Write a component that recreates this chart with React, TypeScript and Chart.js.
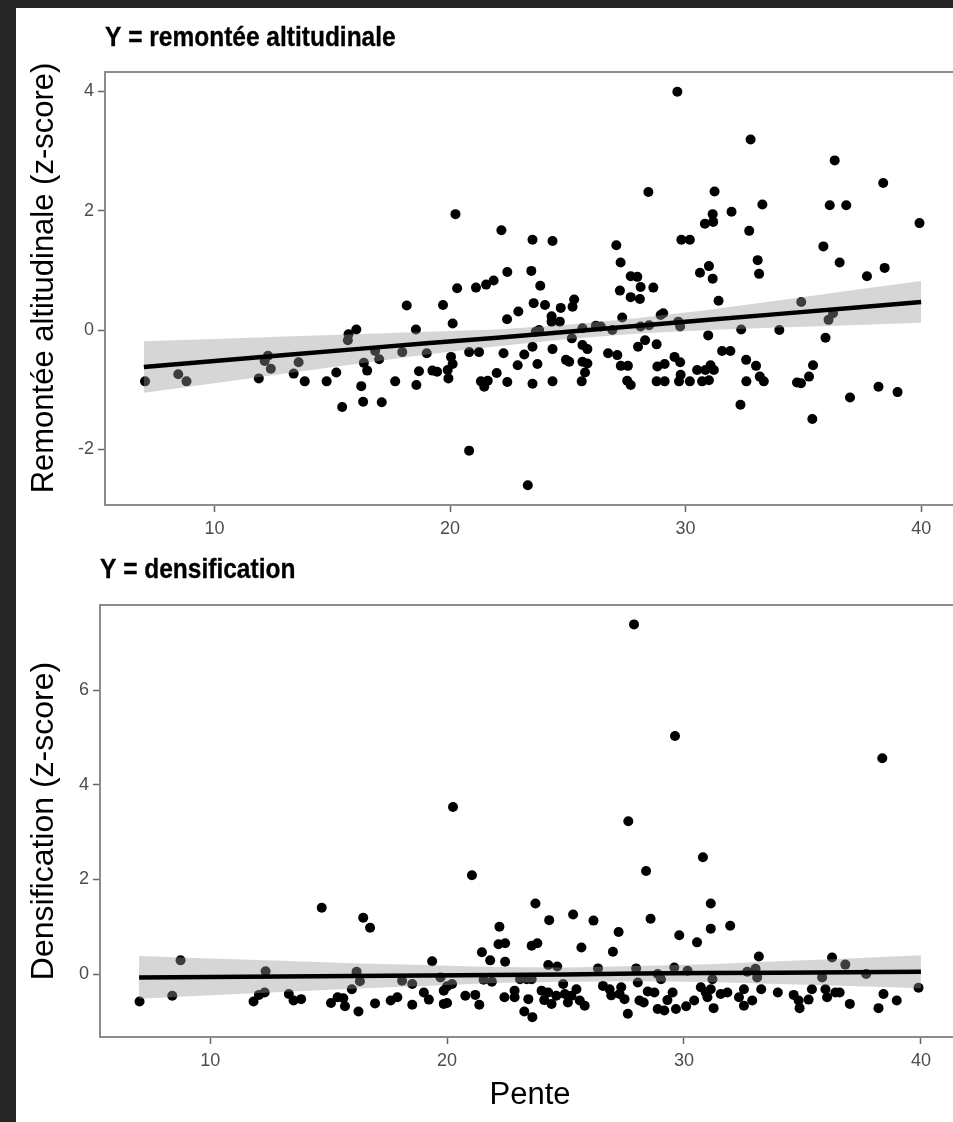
import React, { useEffect, useRef } from "react";
import { Chart, registerables } from "chart.js";

Chart.register(...registerables);

const FONT = '"Liberation Sans", Arial, Helvetica, sans-serif';

// ---------- data ----------
const xTicks = [10, 20, 30, 40];
const topYTicks = [-2, 0, 2, 4];
const bottomYTicks = [0, 2, 4, 6];

const topTitle = "Y = remontée altitudinale";
const bottomTitle = "Y = densification";
const topYLabel = "Remontée altitudinale (z-score)";
const bottomYLabel = "Densification (z-score)";
const xLabel = "Pente";

// Panel 1: pente (x) vs remontée altitudinale (y)
const penteTop = [
  7.05, 8.46, 8.81, 11.88, 12.27, 12.13, 12.39, 13.36, 13.57, 13.83, 14.76, 15.17, 15.42, 15.66, 15.69, 16.02,
  16.23, 16.34, 16.48, 16.31, 17.1, 16.82, 16.99, 17.67, 17.97, 18.16, 18.55, 18.57, 18.68, 19.01, 19.25, 19.45,
  19.7, 20.11, 20.23, 20.3, 20.04, 20.11, 19.9, 19.93, 20.81, 20.81, 21.23, 21.1, 21.53, 21.85, 22.18, 22.43,
  22.42, 21.31, 21.45, 21.6, 21.98, 22.27, 22.43, 22.87, 22.9, 23.15, 23.3, 23.5, 23.45, 23.55, 23.5, 23.5,
  24.35, 23.83, 24.03, 24.7, 25.27, 25.2, 24.31, 24.31, 24.66, 23.78, 23.64, 23.71, 24.35, 24.35, 25.17, 25.62,
  25.62, 25.83, 24.92, 25.06, 25.62, 25.83, 25.73, 25.59, 26.19, 26.4, 26.89, 26.71, 27.1, 27.25, 27.55, 27.52,
  27.67, 27.06, 27.24, 27.21, 27.31, 27.67, 27.95, 28.09, 27.67, 28.06, 28.63, 28.42, 28.09, 28.28, 27.98, 28.45,
  28.77, 28.94, 29.05, 28.8, 29.11, 28.77, 29.11, 29.65, 29.53, 29.77, 29.69, 29.77, 29.82, 30.18, 29.79, 29.72,
  30.18, 30.49, 30.7, 30.84, 31.06, 31.2, 30.99, 30.61, 30.99, 31.15, 30.82, 31.15, 31.17, 31.23, 31.4, 30.96,
  31.55, 31.9, 31.95, 32.36, 32.57, 32.99, 33.32, 33.15, 32.58, 32.33, 32.76, 32.7, 33.26, 33.06, 33.12, 33.98,
  34.91, 34.73, 34.9, 35.24, 35.41, 35.38, 35.94, 36.07, 36.26, 35.85, 36.12, 36.33, 36.82, 36.54, 36.98, 37.7,
  38.39, 38.45, 38.19, 39.0, 39.93,
];
const remontee = [
  -0.86, -0.74, -0.86, -0.81, -0.43, -0.52, -0.65, -0.73, -0.54, -0.86, -0.86, -0.71, -1.29, -0.17, -0.07, 0.01,
  -0.94, -0.55, -0.68, -1.2, -1.21, -0.35, -0.49, -0.86, -0.37, 0.41, 0.01, -0.92, -0.69, -0.39, -0.68, -0.7,
  0.42, 0.11, 1.94, 0.7, -0.45, -0.57, -0.67, -0.81, -2.02, -0.37, -0.37, 0.71, 0.76, 0.83, 1.67, 0.97,
  0.18, -0.86, -0.95, -0.85, -0.72, -0.39, -0.87, -0.59, 0.31, -0.41, -2.6, 1.51, 0.99, 0.45, -0.28, -0.9,
  1.49, 0.74, 0.42, 0.37, 0.51, 0.39, 0.23, 0.14, 0.14, 0.0, -0.03, -0.57, -0.86, -0.32, -0.14, 0.03,
  -0.25, -0.32, -0.5, -0.53, -0.53, -0.56, -0.71, -0.86, 0.07, 0.06, 0.0, -0.39, -0.42, -0.6, -0.6, -0.85,
  -0.92, 1.42, 1.13, 0.66, 0.21, 0.9, 0.89, 0.72, 0.55, 0.52, 0.71, 2.31, 0.06, -0.17, -0.28, 0.08,
  -0.24, 0.25, 0.28, -0.61, -0.57, -0.86, -0.86, 3.99, -0.45, -0.54, 0.14, 0.06, 1.51, 1.51, -0.75, -0.86,
  -0.86, -0.67, -0.86, -0.67, -0.59, -0.67, -0.84, 0.96, 1.07, 0.86, 1.78, 1.94, 1.81, 2.32, 0.49, -0.09,
  -0.35, -0.35, 1.98, 0.01, -0.5, -0.6, -0.86, -0.78, -0.86, -1.25, 3.19, 1.66, 2.1, 1.17, 0.94, 0.0,
  0.47, -0.88, -0.89, -0.78, -0.59, -1.49, -0.13, 0.17, 0.28, 1.4, 2.09, 2.84, 2.09, 1.13, -1.13, 0.9,
  2.46, 1.04, -0.95, -1.04, 1.79,
];

// Panel 2: pente (x) vs densification (y)
const penteBottom = [
  7.02, 8.4, 8.75, 11.83, 12.06, 12.3, 12.34, 13.32, 13.52, 13.84, 14.71, 15.1, 15.38, 15.62, 15.69, 15.98,
  16.26, 16.18, 16.32, 16.46, 16.75, 16.96, 17.62,
  17.9, 18.1, 18.53, 18.53, 19.02, 19.23, 19.37, 19.72, 19.86, 20.0, 20.21, 19.86, 20.0, 20.77, 21.19, 21.36,
  21.47, 21.82, 21.54, 21.89, 22.17, 22.45, 22.45, 22.21, 22.42, 22.85, 22.85, 23.08, 20.25, 21.05,
  23.36, 23.57, 23.26, 23.6, 23.43, 23.57, 23.81, 24.27, 24.65, 23.99, 24.27, 24.41, 24.61, 24.9, 24.97, 25.25,
  25.46, 25.6, 25.81, 25.67, 26.37, 26.58, 26.86, 27.0, 27.24, 27.28, 27.49, 27.63, 27.98, 28.05, 28.12, 28.47,
  28.75, 28.89, 28.89, 29.03, 29.17, 29.59, 29.52, 29.66, 29.8, 26.93, 27.35, 28.3, 29.3, 24.1, 25.1,
  27.89, 29.62, 27.65, 28.4, 23.73, 25.32, 24.31, 26.18, 28.59,
  30.15, 30.09, 30.55, 30.43, 30.71, 30.92, 31.13, 30.99, 31.2, 31.25, 31.55, 31.83, 32.32, 32.53, 32.53, 32.88,
  32.67, 33.02, 33.16, 33.09, 33.26, 33.96, 34.63, 34.84, 34.88, 35.26, 35.4, 35.83, 35.97, 36.04, 36.25, 36.39,
  36.57, 36.81, 37.0, 37.69, 38.21, 38.42, 38.98, 39.9, 38.37, 30.8, 31.13, 31.95, 31.13,
];
const densification = [
  -0.58, -0.46, 0.29, -0.58, -0.44, -0.39, 0.06, -0.42, -0.56, -0.53, 1.4, -0.61, -0.49, -0.51, -0.68, -0.32,
  -0.79, 0.05, -0.15, 1.19, 0.98, -0.62, -0.56,
  -0.49, -0.14, -0.21, -0.65, -0.39, -0.54, 0.27, -0.07, -0.35, -0.26, -0.21, -0.63, -0.61, -0.46, -0.44, -0.65,
  0.46, 0.29, -0.12, -0.16, 0.63, 0.65, 0.26, 1.0, -0.49, -0.35, -0.49, -0.11, 3.53, 2.09,
  -0.11, -0.11, -0.79, -0.91, -0.53, 0.6, 0.65, 0.19, 0.16, -0.35, -0.39, -0.63, -0.46, -0.21, -0.42, -0.46,
  -0.32, -0.56, -0.67, 0.56, 0.12, -0.25, -0.32, 0.47, 0.89, -0.42, -0.53, -0.84, 0.12, -0.18, -0.56, -0.37,
  -0.39, 0.0, -0.74, -0.11, -0.77, 0.14, -0.39, -0.74, 0.82, -0.45, -0.28, -0.6, -0.55, -0.55, -0.6,
  7.39, 5.03, 3.23, 2.18, 1.49, 1.26, 1.14, 1.13, 1.17,
  0.07, -0.68, 0.67, -0.56, -0.28, -0.39, -0.32, -0.49, -0.11, -0.72, -0.42, -0.39, -0.49, -0.32, -0.67, -0.56,
  0.05, 0.11, 0.37, -0.07, -0.32, -0.39, -0.44, -0.56, -0.72, -0.54, -0.32, -0.07, -0.32, -0.49, 0.35, -0.39,
  -0.39, 0.2, -0.63, 0.0, -0.72, -0.42, -0.56, -0.29, 4.56, 2.47, 1.49, 1.02, 0.96,
];

// Linear fits with 95% confidence band
const fitX = [7, 10, 13, 16, 19, 22, 25, 28, 31, 34, 37, 40];
const remonteeFit = [-0.62, -0.52, -0.42, -0.32, -0.22, -0.13, -0.03, 0.07, 0.17, 0.27, 0.37, 0.47];
const remonteeUpper = [-0.19, -0.15, -0.11, -0.07, -0.03, 0.01, 0.09, 0.2, 0.34, 0.5, 0.66, 0.82];
const remonteeLower = [-1.05, -0.89, -0.73, -0.57, -0.41, -0.27, -0.15, -0.06, 0.0, 0.04, 0.08, 0.12];
const densFit = [-0.07, -0.06, -0.05, -0.04, -0.03, -0.02, -0.01, 0.01, 0.02, 0.03, 0.04, 0.05];
const densUpper = [0.38, 0.33, 0.28, 0.23, 0.19, 0.15, 0.14, 0.17, 0.21, 0.27, 0.33, 0.4];
const densLower = [-0.52, -0.45, -0.38, -0.31, -0.25, -0.19, -0.16, -0.15, -0.17, -0.21, -0.25, -0.3];

// ---------- drawing ----------
const panelDeco = {
  id: "panelDeco",
  afterDatasetsDraw(chart: any) {
    const { ctx, chartArea } = chart;
    ctx.save();
    ctx.strokeStyle = "#8c8c8c";
    ctx.lineWidth = 2;
    ctx.strokeRect(chartArea.left, chartArea.top, chartArea.right - chartArea.left, chartArea.bottom - chartArea.top);
    ctx.restore();
  },
  afterDraw(chart: any, _args: any, opts: any) {
    const { ctx, chartArea } = chart;
    // panel title (bold, slightly tall like the reference)
    ctx.save();
    ctx.fillStyle = "#000";
    ctx.strokeStyle = "#000";
    ctx.lineWidth = 0.3;
    ctx.font = `bold ${opts.size}px ${FONT}`;
    ctx.textBaseline = "middle";
    ctx.textAlign = "left";
    ctx.translate(chartArea.left, opts.y);
    ctx.scale(1, 1.15);
    ctx.fillText(opts.text, 0, 0);
    ctx.strokeText(opts.text, 0, 0);
    ctx.restore();
    // y-axis title (rotated)
    ctx.save();
    ctx.fillStyle = "#000";
    ctx.font = `${opts.ySize}px ${FONT}`;
    ctx.textBaseline = "middle";
    ctx.textAlign = "center";
    ctx.translate(opts.yTitleX, opts.yTitleY);
    ctx.rotate(-Math.PI / 2);
    ctx.fillText(opts.yText, 0, 0);
    ctx.restore();
  },
};

function toPoints(xs: number[], ys: number[]) {
  return xs.map((x, i) => ({ x, y: ys[i] }));
}

function makeConfig(p: any): any {
  const tickFont = { family: FONT, size: 18 };
  return {
    type: "scatter",
    data: {
      datasets: [
        {
          type: "line",
          data: toPoints(fitX, p.fit),
          borderColor: "#000",
          borderWidth: 4.5,
          pointRadius: 0,
          fill: false,
          order: 0,
        },
        {
          type: "line",
          data: toPoints(fitX, p.upper),
          borderWidth: 0,
          borderColor: "rgba(0,0,0,0)",
          pointRadius: 0,
          fill: "+1",
          backgroundColor: "rgba(153,153,153,0.4)",
          order: 1,
        },
        {
          type: "line",
          data: toPoints(fitX, p.lower),
          borderWidth: 0,
          borderColor: "rgba(0,0,0,0)",
          pointRadius: 0,
          fill: false,
          order: 2,
        },
        {
          type: "scatter",
          data: toPoints(p.xs, p.ys),
          backgroundColor: "#000",
          borderWidth: 0,
          pointRadius: 5,
          order: 3,
        },
      ],
    },
    options: {
      responsive: false,
      animation: false,
      devicePixelRatio: 1,
      layout: { padding: { left: 0, top: p.padTop, right: p.padRight, bottom: 0 } },
      plugins: {
        legend: { display: false },
        tooltip: { enabled: false },
        title: { display: false },
        panelDeco: {
          text: p.title,
          y: p.titleY,
          size: 24.5,
          yText: p.yLabel,
          ySize: p.ySize,
          yTitleX: 44,
          yTitleY: p.yTitleY,
        },
      },
      scales: {
        x: {
          type: "linear",
          min: 5.35,
          max: 41.65,
          afterBuildTicks: (s: any) => {
            s.ticks = xTicks.map((v) => ({ value: v }));
          },
          afterFit: (s: any) => {
            s.height = p.xHeight;
          },
          ticks: {
            font: tickFont,
            color: "#4d4d4d",
            padding: 6,
            maxRotation: 0,
            autoSkip: false,
            callback: (v: any) => String(v),
          },
          grid: {
            display: true,
            drawOnChartArea: false,
            drawTicks: true,
            tickLength: 7,
            tickColor: "#666",
            tickWidth: 1.5,
          },
          border: { display: false },
          title: p.showX
            ? {
                display: true,
                text: xLabel,
                font: { family: FONT, size: 31 },
                color: "#000",
                padding: { top: 0, bottom: 8 },
              }
            : { display: false },
        },
        y: {
          type: "linear",
          min: p.yMin,
          max: p.yMax,
          afterBuildTicks: (s: any) => {
            s.ticks = p.yTicks.map((v: number) => ({ value: v }));
          },
          afterFit: (s: any) => {
            s.width = p.yWidth;
          },
          ticks: {
            font: tickFont,
            color: "#4d4d4d",
            padding: 4,
            autoSkip: false,
            callback: (v: any) => String(v),
          },
          grid: {
            display: true,
            drawOnChartArea: false,
            drawTicks: true,
            tickLength: 7,
            tickColor: "#666",
            tickWidth: 1.5,
          },
          border: { display: false },
          title: { display: false },
        },
      },
    },
    plugins: [panelDeco],
  };
}

export default function App() {
  const topRef = useRef<HTMLCanvasElement | null>(null);
  const botRef = useRef<HTMLCanvasElement | null>(null);

  useEffect(() => {
    const c1 = new Chart(
      topRef.current as HTMLCanvasElement,
      makeConfig({
        xs: penteTop,
        ys: remontee,
        fit: remonteeFit,
        upper: remonteeUpper,
        lower: remonteeLower,
        yMin: -2.93,
        yMax: 4.32,
        yTicks: topYTicks,
        title: topTitle,
        titleY: 38,
        yLabel: topYLabel,
        ySize: 31,
        yTitleY: 278,
        padTop: 72,
        padRight: 15,
        xHeight: 43,
        yWidth: 105,
        showX: false,
      })
    );
    const c2 = new Chart(
      botRef.current as HTMLCanvasElement,
      makeConfig({
        xs: penteBottom,
        ys: densification,
        fit: densFit,
        upper: densUpper,
        lower: densLower,
        yMin: -1.33,
        yMax: 7.8,
        yTicks: bottomYTicks,
        title: bottomTitle,
        titleY: 22,
        yLabel: bottomYLabel,
        ySize: 32,
        yTitleY: 273,
        padTop: 57,
        padRight: 15,
        xHeight: 85,
        yWidth: 100,
        showX: true,
      })
    );
    return () => {
      c1.destroy();
      c2.destroy();
    };
  }, []);

  return (
    <div
      style={{
        position: "fixed",
        left: 0,
        top: 0,
        width: 953,
        height: 1122,
        background: "#262626",
        overflow: "hidden",
      }}
    >
      <div style={{ position: "absolute", left: 16, top: 8, right: 0, bottom: 0, background: "#fff" }} />
      <canvas ref={topRef} width={975} height={548} style={{ position: "absolute", left: 0, top: 0, width: 975, height: 548 }} />
      <canvas ref={botRef} width={975} height={574} style={{ position: "absolute", left: 0, top: 548, width: 975, height: 574 }} />
    </div>
  );
}
